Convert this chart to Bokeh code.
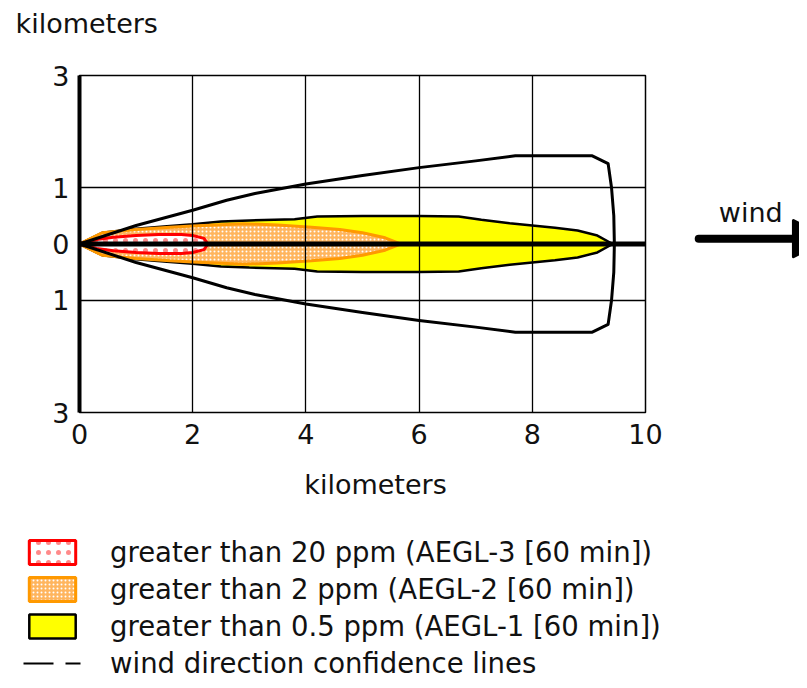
from bokeh.plotting import figure
from bokeh.layouts import column, row
from bokeh.models import FixedTicker, Label, Arrow, NormalHead, Legend, LegendItem, Range1d
from bokeh.embed import file_html
from bokeh.resources import INLINE

FONT = "DejaVu Sans"
TXT = "#111111"
NAN = float("nan")

# Threat zones: downwind distance (km) and crosswind half-width (km)
aegl1_x = [0, 0.4, 1.0, 1.6, 2.0, 2.5, 3.0, 3.8, 4.2, 5.0, 6.0, 6.7, 7.1, 7.6, 8.0, 8.4, 8.8, 9.15, 9.42]
aegl1_hw = [0, 0.2, 0.27, 0.32, 0.35, 0.4, 0.42, 0.44, 0.49, 0.5, 0.5, 0.49, 0.43, 0.37, 0.33, 0.29, 0.24, 0.15, 0]
aegl2_x = [0, 0.4, 1.0, 1.6, 2.0, 2.9, 3.5, 4.1, 4.6, 5.0, 5.4, 5.67]
aegl2_hw = [0, 0.2, 0.26, 0.3, 0.32, 0.36, 0.34, 0.3, 0.26, 0.2, 0.11, 0]
aegl3_x = [0, 0.3, 0.6, 1.0, 1.4, 1.8, 2.0, 2.2, 2.27]
aegl3_hw = [0, 0.08, 0.12, 0.15, 0.17, 0.17, 0.15, 0.1, 0]

# Wind direction confidence line (upper half; lower half mirrors it)
conf_x = [0, 1.0, 2.0, 2.6, 3.1, 4.0, 5.0, 6.0, 7.0, 7.7, 9.06, 9.34, 9.40, 9.44, 9.45]
conf_y = [0, 0.33, 0.6, 0.78, 0.9, 1.07, 1.22, 1.36, 1.48, 1.57, 1.57, 1.43, 1.0, 0.5, 0]

centre_x = [0, 10]
centre_y = [0, 0]

x_ticks = [0, 2, 4, 6, 8, 10]
y_ticks = [-3, -1, 0, 1, 3]
y_tick_labels = {-3: "3", -1: "1", 0: "0", 1: "1", 3: "3"}

labels = [
    "greater than 20 ppm (AEGL-3 [60 min])",
    "greater than 2 ppm (AEGL-2 [60 min])",
    "greater than 0.5 ppm (AEGL-1 [60 min])",
    "wind direction confidence lines",
]

zone_styles = [
    dict(fill_color="white", hatch_pattern="dot", hatch_color="#FF8A8A",
         hatch_scale=10, hatch_weight=0.8, line_color="#FF0000", line_width=3),
    dict(fill_color="#FFB55E", hatch_pattern="dot", hatch_color="white",
         hatch_scale=4, hatch_weight=2.0, line_color="#FF9900", line_width=3),
    dict(fill_color="#FFFF00", line_color="black", line_width=2.5),
]
conf_legend_style = dict(line_color="black", line_width=2, line_dash="30 12 15 60")


def zone(xs, hw):
    return xs + xs[::-1], hw + [-v for v in hw[::-1]]


def bare(**kw):
    fig = figure(x_axis_type=None, y_axis_type=None, output_backend="svg",
                 toolbar_location=None, min_border=0, **kw)
    fig.grid.visible = False
    fig.outline_line_color = None
    fig.background_fill_color = "white"
    fig.border_fill_color = "white"
    return fig


# ---- top strip: y-axis unit ----
top = bare(width=799, height=45, x_range=Range1d(0, 799), y_range=Range1d(45, 0))
top.add_layout(Label(x=15, y=23, text="kilometers", text_font=FONT, text_font_size="27px",
                     text_color=TXT, text_baseline="alphabetic", text_align="left"))

# ---- main chart ----
p = figure(width=680, height=410, x_range=Range1d(0, 10), y_range=Range1d(-3, 3),
           output_backend="svg", toolbar_location=None,
           min_border_left=79, min_border_right=35,
           min_border_top=30, min_border_bottom=43)
p.background_fill_color = "white"
p.border_fill_color = "white"
p.outline_line_color = "black"
p.outline_line_width = 1.5

zx, zy = zone(aegl1_x, aegl1_hw)
p.patch(zx, zy, **zone_styles[2])
zx, zy = zone(aegl2_x, aegl2_hw)
p.patch(zx, zy, **zone_styles[1])
zx, zy = zone(aegl3_x, aegl3_hw)
p.patch(zx, zy, **zone_styles[0])

cx = conf_x + conf_x[::-1][1:]
cy = conf_y + [-v for v in conf_y[::-1][1:]]
p.line(cx, cy, line_color="black", line_width=3, line_join="round")
p.line(centre_x, centre_y, line_color="black", line_width=5)

p.xaxis.ticker = FixedTicker(ticks=x_ticks)
p.yaxis.ticker = FixedTicker(ticks=y_ticks)
p.yaxis.major_label_overrides = y_tick_labels
for ax in (p.xaxis[0], p.yaxis[0]):
    ax.major_tick_line_color = None
    ax.minor_tick_line_color = None
    ax.major_tick_out = 0
    ax.major_tick_in = 0
    ax.major_label_text_font = FONT
    ax.major_label_text_font_size = "27px"
    ax.major_label_text_color = TXT
p.xaxis.axis_line_color = None
p.xaxis.major_label_standoff = 11
p.yaxis.axis_line_color = "black"
p.yaxis.axis_line_width = 4
p.yaxis.major_label_standoff = 10

p.xgrid.ticker = FixedTicker(ticks=[2, 4, 6, 8])
p.ygrid.ticker = FixedTicker(ticks=[-1, 1])
for g in (p.xgrid[0], p.ygrid[0]):
    g.grid_line_color = "black"
    g.grid_line_width = 1.3
    g.level = "overlay"

# ---- wind arrow strip (continues the main chart's scales) ----
w = bare(width=119, height=410,
         x_range=Range1d(10.618, 12.721), y_range=Range1d(-3.765, 3.534))
w.add_layout(Label(x=11.86, y=0.57, text="wind", text_font=FONT, text_font_size="27px",
                   text_color=TXT, text_baseline="alphabetic", text_align="center"))
w.add_layout(Arrow(end=NormalHead(size=36, fill_color="black", line_color="black",
                                  line_width=3, line_join="round"),
                   x_start=10.94, y_start=0, x_end=13.25, y_end=0,
                   line_width=8, line_color="black", line_cap="round"))

# ---- bottom strip: x-axis unit and legend ----
b = bare(width=799, height=225, x_range=Range1d(0, 799), y_range=Range1d(225, 0))
b.add_layout(Label(x=375, y=29, text="kilometers", text_font=FONT, text_font_size="27px",
                   text_color=TXT, text_baseline="alphabetic", text_align="center"))
l3 = b.patch([NAN], [NAN], **zone_styles[0])
l2 = b.patch([NAN], [NAN], **zone_styles[1])
l1 = b.patch([NAN], [NAN], **zone_styles[2])
l4 = b.line([NAN], [NAN], **conf_legend_style)
legend = Legend(items=[LegendItem(label=labels[0], renderers=[l3]),
                       LegendItem(label=labels[1], renderers=[l2]),
                       LegendItem(label=labels[2], renderers=[l1]),
                       LegendItem(label=labels[3], renderers=[l4])],
                location=(23, 1), glyph_width=58, glyph_height=30,
                label_standoff=29, spacing=5, padding=0, margin=0,
                border_line_color=None, background_fill_alpha=0,
                label_text_font=FONT, label_text_font_size="27.5px", label_text_color=TXT)
b.add_layout(legend)

layout = column(top, row(p, w, spacing=0), b, spacing=0)
open("out.html", "w").write(file_html(layout, INLINE))
